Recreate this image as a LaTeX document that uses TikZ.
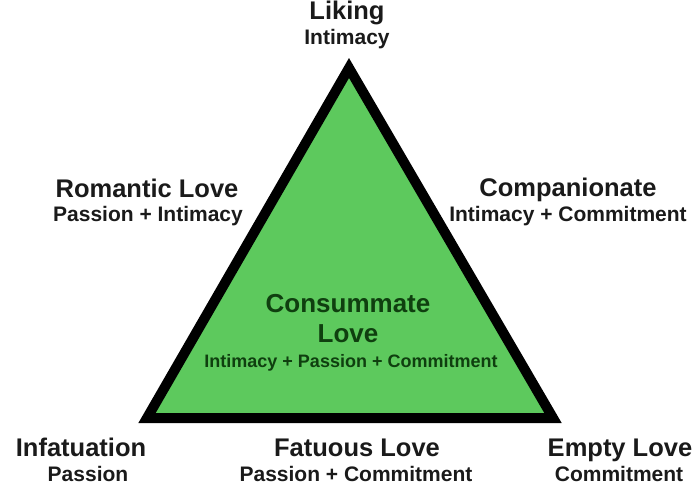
\documentclass[tikz,border=0pt]{standalone}
\usepackage{fontspec}
\setmainfont{Liberation Sans}
\definecolor{lovegreen}{HTML}{5DC95D}
\definecolor{txtdark}{HTML}{1A1A1A}
\definecolor{txtgreen}{HTML}{0F3F0F}
\begin{document}
\begin{tikzpicture}[x=1pt,y=-1pt,
  lbl/.style={anchor=base,inner sep=0pt,text=txtdark,font=\bfseries\fontsize{25.5}{25.5}\selectfont},
  sublbl/.style={anchor=base,inner sep=0pt,text=txtdark,font=\bfseries\fontsize{21}{21}\selectfont},
  midlbl/.style={anchor=base,inner sep=0pt,text=txtgreen,font=\bfseries\fontsize{26}{26}\selectfont},
  midsub/.style={anchor=base,inner sep=0pt,text=txtgreen,font=\bfseries\fontsize{18}{18}\selectfont},
  tri/.style={fill=lovegreen,draw=black,line width=10pt,line join=miter}]
\useasboundingbox (0,0) rectangle (695,491);
\fill[white] (0,0) rectangle (695,491);
\coordinate (A) at (349,68);
\coordinate (B) at (147,418);
\coordinate (C) at (553,418);
\filldraw[tri] (A) -- (B) -- (C) -- cycle;
% top
\node[lbl] (liking) at (347,19) {Liking};
\node[sublbl] (likingS) at (347,44) {Intimacy};
% left
\node[lbl] (rom) at (147,197) {Romantic Love};
\node[sublbl] (romS) at (148,221) {Passion + Intimacy};
% right
\node[lbl] (comp) at (568,196) {Companionate};
\node[sublbl] (compS) at (568,221) {Intimacy + Commitment};
% center
\node[midlbl] (cons1) at (348,312) {Consummate};
\node[midlbl] (cons2) at (348,342) {Love};
\node[midsub] (consS) at (351,367) {Intimacy + Passion + Commitment};
% bottom
\node[lbl] (inf) at (81,456) {Infatuation};
\node[sublbl] (infS) at (88,481) {Passion};
\node[lbl] (fat) at (357,456) {Fatuous Love};
\node[sublbl] (fatS) at (356,481) {Passion + Commitment};
\node[lbl] (emp) at (620,456) {Empty Love};
\node[sublbl] (empS) at (619,481) {Commitment};
\end{tikzpicture}
\end{document}
